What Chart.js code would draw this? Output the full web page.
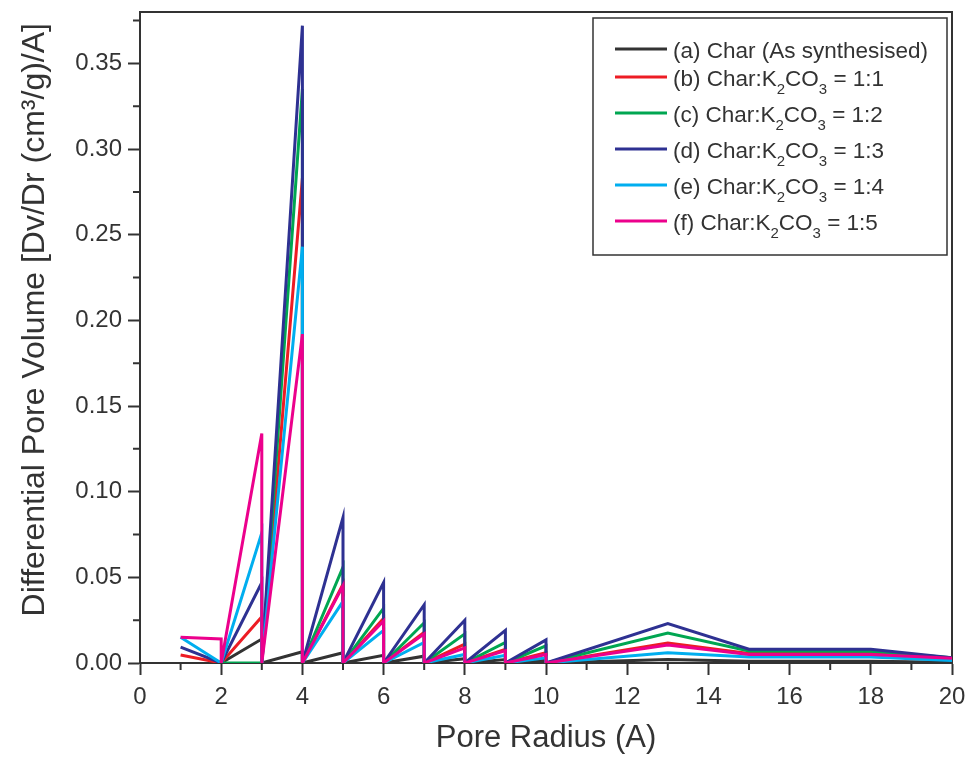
<!DOCTYPE html>
<html><head><meta charset="utf-8">
<script src="https://cdn.jsdelivr.net/npm/chart.js@4.4.1/dist/chart.umd.min.js"></script>
<style>html,body{margin:0;padding:0;background:#fff;}#wrap{width:967px;height:757px;}</style>
</head><body><div id="wrap"><canvas id="c" width="967" height="757"></canvas></div>
<script>
// Pore radius (A): each integer step has a rise then a vertical drop back to zero
const radius = [1,2,2,3,3,4,4,5,5,6,6,7,7,8,8,9,9,10,10,13,15,18,20];
const seriesA = [null,0,0,0.014,0,0.0066,0,0.006,0,0.0045,0,0.004,0,0.0025,0,0.002,0,0.0015,0,0.002,0.001,0.001,0.0005];
const seriesB = [0.0047,0,0,0.027,0,0.283,0,0.046,0,0.026,0,0.018,0,0.011,0,0.008,0,0.006,0,0.0117,0.0055,0.0055,0.0028];
const seriesC = [null,0,0,0,0,0.335,0,0.056,0,0.032,0,0.0235,0,0.017,0,0.012,0,0.01,0,0.0175,0.007,0.0068,0.003];
const seriesD = [0.0093,0,0,0.047,0,0.372,0,0.085,0,0.047,0,0.034,0,0.025,0,0.019,0,0.0135,0,0.023,0.008,0.008,0.003];
const seriesE = [0.015,0,0,0.076,0,0.243,0,0.036,0,0.019,0,0.012,0,0.005,0,0.0045,0,0.003,0,0.006,0.0035,0.0035,0.0015];
const seriesF = [0.015,0.014,0,0.134,0,0.192,0,0.045,0,0.0245,0,0.017,0,0.0088,0,0.0072,0,0.005,0,0.0105,0.005,0.005,0.0028];
const seriesLabels = ['(a) Char (As synthesised)','(b) Char:K₂CO₃ = 1:1','(c) Char:K₂CO₃ = 1:2','(d) Char:K₂CO₃ = 1:3','(e) Char:K₂CO₃ = 1:4','(f) Char:K₂CO₃ = 1:5'];
const seriesColors = ['#333333','#ed1c24','#00a651','#2e3192','#00aeef','#ec008c'];
const xTitle = 'Pore Radius (A)';
const yTitle = '    Differential Pore Volume [Dv/Dr (cm³/g)/A]';

const AX = '#333333';
const FONT = "'Liberation Sans', Arial, Helvetica, sans-serif";
Chart.defaults.font.family = FONT;
Chart.defaults.color = AX;

const allSeries = [seriesA,seriesB,seriesC,seriesD,seriesE,seriesF];
const datasets = allSeries.map((s,i)=>({
  label: seriesLabels[i],
  data: radius.map((r,j)=>({x:r,y:s[j]})),
  borderColor: seriesColors[i],
  backgroundColor: seriesColors[i],
  borderWidth: 3,
  pointRadius: 0,
  tension: 0,
  fill: false,
  spanGaps: false,
  order: allSeries.length - i
}));

const isMajorY = v => Math.abs(Math.round(v*1000) % 50) === 0;
const isMajorX = v => Math.round(v) % 2 === 0;

const framePlugin = {
  id:'frame',
  beforeDatasetsDraw(chart){
    const {ctx, chartArea:a, scales} = chart;
    ctx.save();
    ctx.strokeStyle = AX; ctx.lineWidth = 2;
    ctx.beginPath();
    ctx.moveTo(a.left, a.top); ctx.lineTo(a.right, a.top); ctx.lineTo(a.right, a.bottom);
    scales.x.ticks.forEach(t=>{ if(!isMajorX(t.value)){ const px=scales.x.getPixelForValue(t.value); ctx.moveTo(px,a.bottom); ctx.lineTo(px,a.bottom+7);} });
    scales.y.ticks.forEach(t=>{ if(!isMajorY(t.value)){ const py=scales.y.getPixelForValue(t.value); ctx.moveTo(a.left,py); ctx.lineTo(a.left-7,py);} });
    ctx.stroke();
    ctx.restore();
  }
};

function drawRich(ctx, text, x, y, size){
  const subs = '₀₁₂₃₄₅₆₇₈₉';
  let cx = x;
  for (const ch of text){
    const k = subs.indexOf(ch);
    if (k >= 0){
      ctx.font = Math.round(size*0.68)+'px '+FONT;
      ctx.fillText(String(k), cx, y+8);
      cx += ctx.measureText(String(k)).width;
    } else {
      ctx.font = size+'px '+FONT;
      ctx.fillText(ch, cx, y);
      cx += ctx.measureText(ch).width;
    }
  }
}

const legendPlugin = {
  id:'boxLegend',
  afterDatasetsDraw(chart){
    const {ctx, chartArea:a} = chart;
    const w = 354, h = 237;
    const x0 = a.right - 5 - w, y0 = a.top + 6;
    ctx.save();
    ctx.fillStyle = '#fff'; ctx.fillRect(x0,y0,w,h);
    ctx.strokeStyle = AX; ctx.lineWidth = 1.5; ctx.strokeRect(x0,y0,w,h);
    chart.data.datasets.forEach((ds,i)=>{
      const ly = y0 + 31 + (i===0 ? 0 : 28 + (i-1)*36);
      ctx.strokeStyle = ds.borderColor; ctx.lineWidth = 3;
      ctx.beginPath(); ctx.moveTo(x0+22, ly); ctx.lineTo(x0+74, ly); ctx.stroke();
      ctx.fillStyle = AX; ctx.textBaseline = 'alphabetic'; ctx.textAlign='left';
      drawRich(ctx, ds.label, x0+80, ly+8.5, 22.5);
    });
    ctx.restore();
  }
};

function noPad(s){ s.paddingTop = 0; s.paddingBottom = 0; s.paddingLeft = 0; s.paddingRight = 0; }

new Chart(document.getElementById('c'), {
  type:'line',
  data:{datasets},
  options:{
    responsive:false, animation:false, devicePixelRatio:1,
    layout:{padding:{top:12,right:15,left:0,bottom:0}},
    plugins:{legend:{display:false},tooltip:{enabled:false}},
    scales:{
      x:{type:'linear',min:0,max:20,
        afterFit(s){ s.height = 94; noPad(s); },
        ticks:{stepSize:1,autoSkip:false,maxRotation:0,padding:8,font:{size:24},color:AX,
          callback:v=> isMajorX(v) ? String(v) : ''},
        grid:{drawOnChartArea:false,drawTicks:true,tickLength:12,tickWidth:2,
          tickColor:c=> isMajorX(c.tick.value) ? AX : 'rgba(0,0,0,0)'},
        border:{display:true,color:AX,width:2},
        title:{display:true,text:xTitle,font:{size:31},color:AX,padding:{top:0,bottom:0}}
      },
      y:{type:'linear',min:0,max:0.38,
        afterFit(s){ s.width = 140; noPad(s); },
        ticks:{stepSize:0.025,autoSkip:false,includeBounds:false,padding:6,font:{size:24},color:AX,
          callback:v=> isMajorY(v) ? v.toFixed(2) : ''},
        grid:{drawOnChartArea:false,drawTicks:true,tickLength:12,tickWidth:2,
          tickColor:c=> isMajorY(c.tick.value) ? AX : 'rgba(0,0,0,0)'},
        border:{display:true,color:AX,width:2},
        title:{display:true,text:yTitle,font:{size:32},color:AX,padding:{top:16,bottom:0}}
      }
    }
  },
  plugins:[framePlugin, legendPlugin]
});
</script></body></html>
